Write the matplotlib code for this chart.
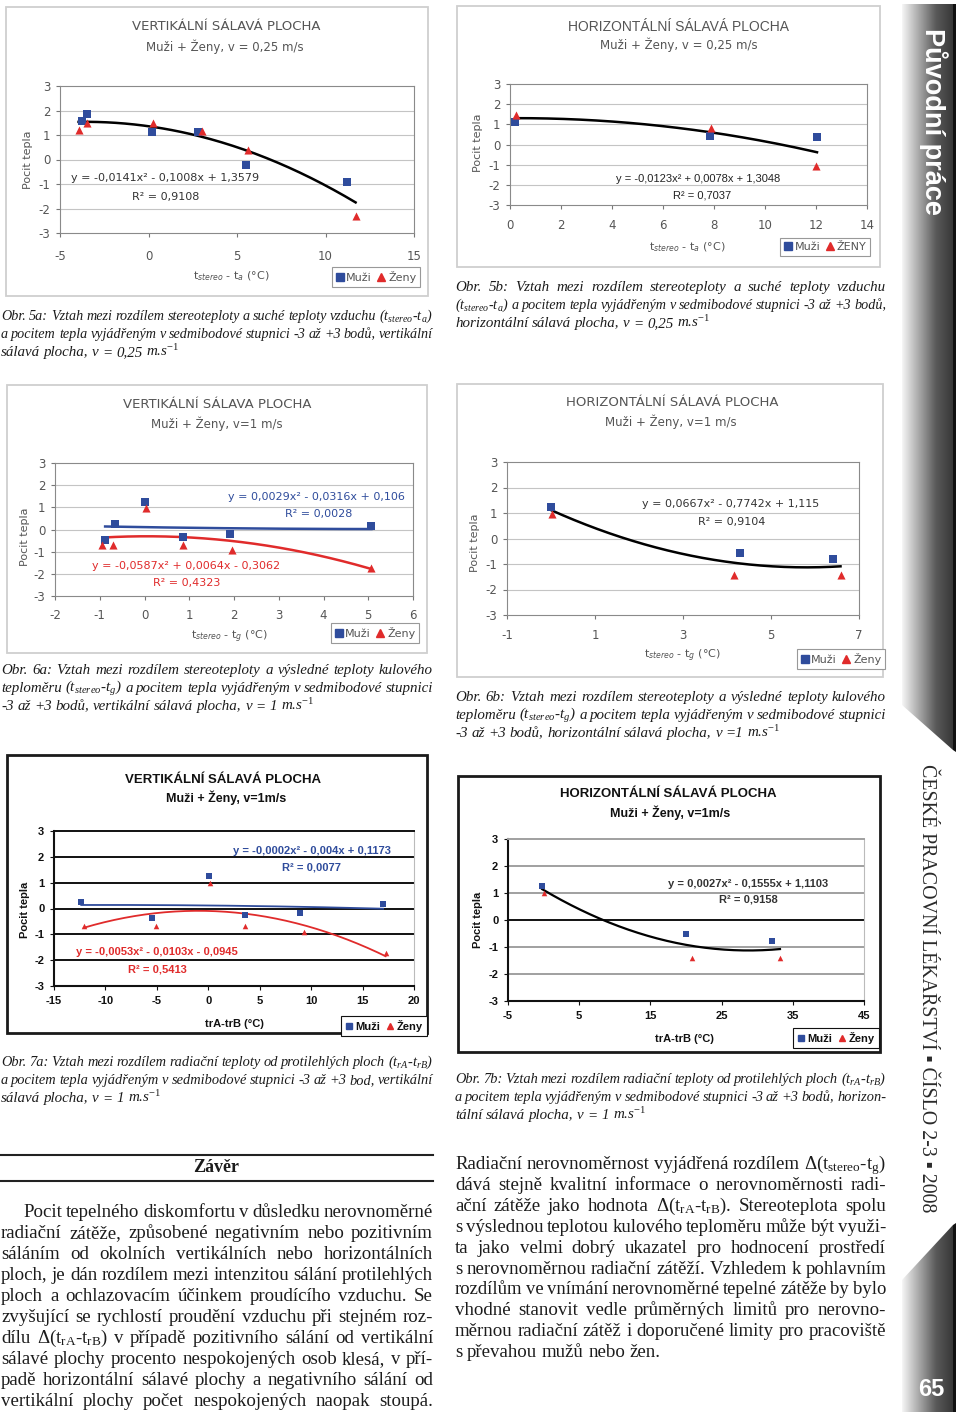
import numpy as np
import matplotlib
matplotlib.use("Agg")
import matplotlib.pyplot as plt
from matplotlib.patches import Rectangle, Polygon
from matplotlib.lines import Line2D
from matplotlib.colors import LinearSegmentedColormap

W, H = 960, 1415
plt.rcParams['axes.unicode_minus'] = False
plt.rcParams['mathtext.fontset'] = 'custom'
plt.rcParams['mathtext.rm'] = 'Liberation Serif'
plt.rcParams['mathtext.it'] = 'Liberation Serif:italic'
plt.rcParams['mathtext.bf'] = 'Liberation Serif:bold'

BLUE = '#2f4c9c'
RED = '#e02b2b'

# Obr. 5a
x5a_m = [-3.76, -3.5, 0.17, 2.8, 5.53, 11.23]
y5a_m = [1.59, 1.86, 1.11, 1.11, -0.24, -0.91]
x5a_z = [-3.95, -3.5, 0.23, 3.03, 5.63, 11.7]
y5a_z = [1.21, 1.48, 1.48, 1.18, 0.39, -2.32]
fit5a = [-0.0141, -0.1008, 1.3579]

# Obr. 5b
x5b_m = [0.2, 7.85, 12.04]
y5b_m = [1.11, 0.43, 0.35]
x5b_z = [0.22, 7.88, 12.0]
y5b_z = [1.48, 0.81, -1.09]
fit5b = [-0.0123, 0.0078, 1.3048]

# Obr. 6a
x6a_m = [-0.88, -0.66, 0.0, 0.87, 1.91, 5.07]
y6a_m = [-0.47, 0.23, 1.22, -0.35, -0.21, 0.14]
x6a_z = [-0.94, -0.71, 0.03, 0.86, 1.96, 5.07]
y6a_z = [-0.72, -0.72, 0.98, -0.68, -0.92, -1.73]
fit6a_m = [0.0029, -0.0316, 0.106]
fit6a_z = [-0.0587, 0.0064, -0.3062]

# Obr. 6b
x6b_m = [0.0, 4.29, 6.41]
y6b_m = [1.22, -0.58, -0.8]
x6b_z = [0.02, 4.16, 6.58]
y6b_z = [0.97, -1.42, -1.42]
fit6b = [0.0667, -0.7742, 1.115]

# Obr. 7a
x7a_m = [-12.35, -5.44, 0.06, 3.53, 8.88, 17.0]
y7a_m = [0.26, -0.36, 1.27, -0.26, -0.19, 0.17]
x7a_z = [-12.1, -5.05, 0.2, 3.6, 9.27, 17.24]
y7a_z = [-0.68, -0.68, 1.0, -0.68, -0.9, -1.71]
fit7a_m = [-0.0002, -0.004, 0.1173]
fit7a_z = [-0.0053, -0.0103, -0.0945]

# Obr. 7b
x7b_m = [-0.2, 20.0, 32.1]
y7b_m = [1.25, -0.52, -0.76]
x7b_z = [0.0, 20.8, 33.2]
y7b_z = [1.0, -1.42, -1.42]
fit7b = [0.0027, -0.1555, 1.1103]

fig = plt.figure(figsize=(W / 100, H / 100), dpi=100)


def fx(x):
    return x / W


def fy(y):
    return 1 - y / H


def chart(frame, area, xlim, xticks, xm, ym, xz, yz, fits, title, title_xy, sub, sub_xy,
          xlab, xlab_xy, ylab_xy, eqs, leg_xy, leg_labels, dark=False, xpad=7,
          title_fam=None, grid_col=None, zero_col=None, tsize=9.5, ssize=8.5):
    x0f, y0f, x1f, y1f = frame
    fig.add_artist(Rectangle((fx(x0f), fy(y1f)), (x1f - x0f) / W, (y1f - y0f) / H,
                             transform=fig.transFigure, fill=False,
                             ec='#1a1a1a' if dark else '#cfcfcf', lw=2 if dark else 1.3))
    x0, y0, x1, y1 = area
    ax = fig.add_axes([fx(x0), fy(y1), (x1 - x0) / W, (y1 - y0) / H])
    fam = 'Liberation Sans' if dark else 'DejaVu Sans'
    wt = 'bold' if dark else 'normal'
    tc = '#111111' if dark else '#555555'
    ax.set_xlim(xlim)
    ax.set_ylim(-3, 3)
    ax.set_xticks(xticks)
    ax.set_yticks(range(-3, 4))
    ax.set_xticklabels([str(t) for t in xticks], family=fam, weight=wt, fontsize=8.5 if not dark else 8)
    ax.set_yticklabels([str(t) for t in range(-3, 4)], family=fam, weight=wt, fontsize=8.5 if not dark else 8)
    ax.tick_params(direction='out', length=3, width=0.8, color='#777' if not dark else '#111', labelcolor=tc)
    ax.tick_params(axis='x', pad=xpad)
    ax.tick_params(axis='y', pad=4)
    gc = grid_col or ('#111111' if dark else '#c4c4c4')
    for yv in range(-2, 3):
        c = zero_col if (yv == 0 and zero_col) else gc
        ax.axhline(yv, color=c, lw=1.4 if dark else 0.8, zorder=0)
    for s in ax.spines.values():
        s.set_color('#8a8a8a')
        s.set_linewidth(0.8)
    if dark:
        ax.spines['left'].set_color('#111')
        ax.spines['bottom'].set_color('#111')
        ax.spines['left'].set_linewidth(1.5)
        ax.spines['bottom'].set_linewidth(1.5)
        ax.spines['top'].set_color(gc)
        ax.spines['top'].set_linewidth(1.4)
        ax.spines['right'].set_color('#bbbbbb')
    for coef, col, xsrc, lw in fits:
        xs = np.linspace(min(xsrc), max(xsrc), 150)
        ax.plot(xs, np.polyval(coef, xs), color=col, lw=lw, zorder=2)
    msz = 34 if not dark else 16
    ax.scatter(xm, ym, marker='s', s=msz, color=BLUE, zorder=3, lw=0)
    ax.scatter(xz, yz, marker='^', s=msz, color=RED, zorder=3, lw=0)

    fig.text(fx(title_xy[0]), fy(title_xy[1]), title, ha='center', va='center',
             family=title_fam or fam, weight=wt, fontsize=tsize, color=tc)
    fig.text(fx(sub_xy[0]), fy(sub_xy[1]), sub, ha='center', va='center',
             family=fam, weight=wt, fontsize=ssize, color=tc)
    fig.text(fx(xlab_xy[0]), fy(xlab_xy[1]), xlab, ha='center', va='center', family=fam,
             weight=wt, fontsize=8, color=tc, math_fontfamily='dejavusans')
    fig.text(fx(ylab_xy[0]), fy(ylab_xy[1]), 'Pocit tepla', ha='center', va='center',
             rotation=90, family=fam, weight=wt, fontsize=8, color=tc)
    for txt, ex, ey, col, fam_e in eqs:
        fig.text(fx(ex), fy(ey), txt, ha='center', va='center', family=fam_e or fam,
                 weight=wt, fontsize=8, color=col)
    handles = [Line2D([], [], ls='none', marker='s', color=BLUE, ms=5.5 if not dark else 4),
               Line2D([], [], ls='none', marker='^', color=RED, ms=5.5 if not dark else 4)]
    leg = fig.legend(handles, leg_labels, loc='center', bbox_to_anchor=(fx(leg_xy[0]), fy(leg_xy[1])),
                     ncol=2, fancybox=False, edgecolor='#999999' if not dark else '#111', framealpha=1,
                     handlelength=0.7, handletextpad=0.25, columnspacing=0.5, borderpad=0.35,
                     prop={'family': fam, 'weight': wt, 'size': 8})
    leg.get_frame().set_linewidth(0.8)
    for t in leg.get_texts():
        t.set_color(tc)
    return ax


chart((6, 7, 428, 296), (60, 86, 414, 233), (-5, 15), [-5, 0, 5, 10, 15],
      x5a_m, y5a_m, x5a_z, y5a_z, [(fit5a, 'black', x5a_m + x5a_z, 1.8)],
      'VERTIKÁLNÍ SÁLAVÁ PLOCHA', (226, 26), 'Muži + Ženy, v = 0,25 m/s', (225, 47),
      't$_{stereo}$ - t$_a$ (°C)', (231, 276), (28, 160),
      [('y = -0,0141x² - 0,1008x + 1,3579', 165, 178, '#333333', None),
       ('R² = 0,9108', 166, 197, '#333333', None)],
      (376, 277), ['Muži', 'Ženy'], xpad=9)

chart((457, 6, 880, 267), (510, 84, 867, 205), (0, 14), [0, 2, 4, 6, 8, 10, 12, 14],
      x5b_m, y5b_m, x5b_z, y5b_z, [(fit5b, 'black', x5b_m + x5b_z, 1.8)],
      'HORIZONTÁLNÍ SÁLAVÁ PLOCHA', (679, 27), 'Muži + Ženy, v = 0,25 m/s', (679, 45),
      't$_{stereo}$ - t$_a$ (°C)', (687, 247), (478, 143),
      [('y = -0,0123x² + 0,0078x + 1,3048', 698, 179, '#222222', 'Liberation Sans'),
       ('R² = 0,7037', 702, 196, '#222222', 'Liberation Sans')],
      (825, 247), ['Muži', 'ŽENY'], xpad=7, title_fam='Liberation Sans', tsize=10)

chart((7, 385, 427, 653), (55, 463, 413, 596), (-2, 6), list(range(-2, 7)),
      x6a_m, y6a_m, x6a_z, y6a_z,
      [(fit6a_m, BLUE, x6a_m, 1.8), (fit6a_z, RED, x6a_z, 1.8)],
      'VERTIKÁLNÍ SÁLAVA PLOCHA', (217, 404), 'Muži + Ženy, v=1 m/s', (217, 424),
      't$_{stereo}$ - t$_g$ (°C)', (229, 637), (25, 537),
      [('y = 0,0029x² - 0,0316x + 0,106', 316, 497, BLUE, None),
       ('R² = 0,0028', 319, 514, BLUE, None),
       ('y = -0,0587x² + 0,0064x - 0,3062', 186, 566, RED, None),
       ('R² = 0,4323', 187, 583, RED, None)],
      (375, 633), ['Muži', 'Ženy'], xpad=6)

chart((457, 384, 883, 677), (507, 462, 859, 615), (-1, 7), [-1, 1, 3, 5, 7],
      x6b_m, y6b_m, x6b_z, y6b_z, [(fit6b, 'black', x6b_m + x6b_z, 1.8)],
      'HORIZONTÁLNÍ SÁLAVÁ PLOCHA', (672, 403), 'Muži + Ženy, v=1 m/s', (671, 422),
      't$_{stereo}$ - t$_g$ (°C)', (682, 656), (475, 543),
      [('y = 0,0667x² - 0,7742x + 1,115', 731, 504, '#333333', None),
       ('R² = 0,9104', 732, 522, '#333333', None)],
      (841, 659), ['Muži', 'Ženy'], xpad=7)

chart((7, 755, 427, 1033), (54, 831, 414, 986), (-15, 20), [-15, -10, -5, 0, 5, 10, 15, 20],
      x7a_m, y7a_m, x7a_z, y7a_z,
      [(fit7a_m, BLUE, x7a_m, 1.3), (fit7a_z, RED, x7a_z, 1.3)],
      'VERTIKÁLNÍ SÁLAVÁ PLOCHA', (223, 780), 'Muži + Ženy, v=1m/s', (226, 798),
      'trA-trB (°C)', (234, 1024), (25, 910),
      [('y = -0,0002x² - 0,004x + 0,1173', 312, 851, BLUE, None),
       ('R² = 0,0077', 311, 868, BLUE, None),
       ('y = -0,0053x² - 0,0103x - 0,0945', 157, 952, RED, None),
       ('R² = 0,5413', 157, 969, RED, None)],
      (384, 1026), ['Muži', 'Ženy'], dark=True, xpad=4, tsize=9.5, ssize=9)

chart((458, 776, 880, 1052), (508, 839, 864, 1001), (-5, 45), [-5, 5, 15, 25, 35, 45],
      x7b_m, y7b_m, x7b_z, y7b_z, [(fit7b, 'black', x7b_m + x7b_z, 1.6)],
      'HORIZONTÁLNÍ SÁLAVÁ PLOCHA', (668, 794), 'Muži + Ženy, v=1m/s', (670, 813),
      'trA-trB (°C)', (684, 1039), (478, 920),
      [('y = 0,0027x² - 0,1555x + 1,1103', 748, 884, '#333333', None),
       ('R² = 0,9158', 748, 900, '#333333', None)],
      (836, 1038), ['Muži', 'Ženy'], dark=True, xpad=4.5, grid_col='#a0a0a0',
      zero_col='#111111', tsize=9.5, ssize=9)


def justify(lines, x0, x1, y0, dy, fs, style='normal', last_full=False, indent=0):
    r = fig.canvas.get_renderer()
    for i, line in enumerate(lines):
        words = line.split()
        y = fy(y0 + i * dy)
        start = x0 + (indent if i == 0 else 0)
        size = fs
        while True:
            arts = [fig.text(0, y, w, fontsize=size, family='Liberation Serif', style=style,
                             va='baseline', ha='left', color='#1c1c1c') for w in words]
            ws = [a.get_window_extent(r).width for a in arts]
            room = x1 - start - sum(ws)
            if room >= 2.8 * (len(words) - 1) or size < fs * 0.8:
                break
            for a in arts:
                a.remove()
            size -= 0.2
        last = i == len(lines) - 1 and not last_full
        if last or len(words) < 2:
            gap = size * 100 / 72 * 0.25
        else:
            gap = room / (len(words) - 1)
        x = start
        for a, w in zip(arts, ws):
            a.set_x(fx(x))
            x += w + gap


cap5a = ["Obr. 5a: Vztah mezi rozdílem stereoteploty a suché teploty vzduchu (t$_{stereo}$-t$_a$)",
         "a pocitem tepla vyjádřeným v sedmibodové stupnici -3 až +3 bodů, vertikální",
         "sálavá plocha, v = 0,25 m.s$^{-1}$"]
cap5b = ["Obr. 5b: Vztah mezi rozdílem stereoteploty a suché teploty vzduchu",
         "(t$_{stereo}$-t$_a$) a pocitem tepla vyjádřeným v sedmibodové stupnici -3 až +3 bodů,",
         "horizontální sálavá plocha, v = 0,25 m.s$^{-1}$"]
cap6a = ["Obr. 6a: Vztah mezi rozdílem stereoteploty a výsledné teploty kulového",
         "teploměru (t$_{stereo}$-t$_g$) a pocitem tepla vyjádřeným v sedmibodové stupnici",
         "-3 až +3 bodů,  vertikální sálavá plocha, v = 1 m.s$^{-1}$"]
cap6b = ["Obr. 6b: Vztah mezi rozdílem stereoteploty a výsledné teploty kulového",
         "teploměru (t$_{stereo}$-t$_g$) a pocitem tepla vyjádřeným v sedmibodové stupnici",
         "-3 až +3 bodů,  horizontální sálavá plocha, v =1 m.s$^{-1}$"]
cap7a = ["Obr. 7a: Vztah mezi rozdílem radiační teploty od protilehlých ploch (t$_{rA}$-t$_{rB}$)",
         "a pocitem tepla vyjádřeným v sedmibodové stupnici -3 až +3 bod,  vertikální",
         "sálavá plocha, v = 1 m.s$^{-1}$"]
cap7b = ["Obr. 7b: Vztah mezi rozdílem radiační teploty od protilehlých ploch (t$_{rA}$-t$_{rB}$)",
         "a pocitem tepla vyjádřeným v sedmibodové stupnici -3 až +3 bodů, horizon-",
         "tální sálavá plocha, v = 1 m.s$^{-1}$"]

justify(cap5a, 1, 433, 320, 18, 10.8, style='italic')
justify(cap5b, 455, 886, 291, 18, 10.8, style='italic')
justify(cap6a, 1, 433, 674, 18, 10.8, style='italic')
justify(cap6b, 455, 886, 701, 18, 10.8, style='italic')
justify(cap7a, 1, 433, 1066, 18, 10.8, style='italic')
justify(cap7b, 455, 886, 1083, 18, 10.8, style='italic')

left_body = ["Pocit tepelného diskomfortu v důsledku nerovnoměrné",
             "radiační zátěže, způsobené negativním nebo pozitivním",
             "sáláním od okolních vertikálních nebo horizontálních",
             "ploch, je dán rozdílem mezi intenzitou sálání protilehlých",
             "ploch a ochlazovacím účinkem proudícího vzduchu. Se",
             "zvyšující se rychlostí proudění vzduchu při stejném roz-",
             r"dílu Δ(t$_{\mathrm{rA}}$-t$_{\mathrm{rB}}$) v případě pozitivního sálání od vertikální",
             "sálavé plochy procento nespokojených osob klesá, v pří-",
             "padě horizontální sálavé plochy a negativního sálání od",
             "vertikální plochy počet nespokojených naopak stoupá."]
right_body = [r"Radiační nerovnoměrnost vyjádřená rozdílem Δ(t$_{\mathrm{stereo}}$-t$_{\mathrm{g}}$)",
              "dává stejně kvalitní informace o nerovnoměrnosti radi-",
              r"ační zátěže jako hodnota Δ(t$_{\mathrm{rA}}$-t$_{\mathrm{rB}}$). Stereoteplota spolu",
              "s výslednou teplotou kulového teploměru může být využi-",
              "ta jako velmi dobrý ukazatel pro hodnocení prostředí",
              "s nerovnoměrnou radiační zátěží. Vzhledem k pohlavním",
              "rozdílům ve vnímání nerovnoměrné tepelné zátěže by bylo",
              "vhodné stanovit vedle průměrných limitů pro nerovno-",
              "měrnou radiační zátěž i doporučené limity pro pracoviště",
              "s převahou mužů nebo žen."]

fig.add_artist(Line2D([fx(0), fx(433)], [fy(1155), fy(1155)], transform=fig.transFigure, color='#222', lw=1.5))
fig.add_artist(Line2D([fx(0), fx(433)], [fy(1181), fy(1181)], transform=fig.transFigure, color='#222', lw=1.5))
fig.text(fx(216), fy(1168), 'Závěr', ha='center', va='center', family='Liberation Serif',
         weight='bold', fontsize=13, color='#1c1c1c')
justify(left_body, 1, 433, 1217, 21.0, 13.6, last_full=True, indent=22)
justify(right_body, 455, 886, 1169, 20.9, 13.6)

# side banner
axb = fig.add_axes([fx(895), 0, 65 / W, 1])
axb.set_xlim(895, 960)
axb.set_ylim(H, 0)
axb.axis('off')
cmap = LinearSegmentedColormap.from_list('band', ['#f6f6f6', '#a8a8a8', '#5a5a5a', '#383838'])
grad = np.linspace(0, 1, 256).reshape(1, -1)
top_band = Polygon([(902, 4), (953, 4), (953, 750), (902, 705)], closed=True, fc='none', ec='none')
bot_band = Polygon([(902, 1280), (953, 1225), (953, 1412), (902, 1412)], closed=True, fc='none', ec='none')
for poly in (top_band, bot_band):
    axb.add_patch(poly)
    im = axb.imshow(grad, extent=(902, 953, H, 0), aspect='auto', cmap=cmap, zorder=1)
    im.set_clip_path(poly)
axb.add_patch(Polygon([(953, 4), (956, 4), (956, 752), (953, 750)], closed=True, fc='#111', ec='none', zorder=2))
axb.add_patch(Polygon([(953, 1225), (956, 1223), (956, 1412), (953, 1412)], closed=True, fc='#111', ec='none', zorder=2))
axb.text(933, 28, 'Původní práce', rotation=270, ha='center', va='top', color='white',
         family='Liberation Sans', weight='bold', fontsize=19.5, zorder=3)
axb.text(927, 764, 'ČESKÉ PRACOVNÍ LÉKAŘSTVÍ ▪ ČÍSLO 2-3 ▪ 2008', rotation=270, ha='center', va='top',
         color='#2a2a2a', family=['Liberation Serif', 'DejaVu Serif'], fontsize=14.3, zorder=3)
axb.text(931, 1389, '65', ha='center', va='center', color='white', family='Liberation Sans',
         weight='bold', fontsize=17, zorder=3)

fig.savefig('out.png', dpi=100)
